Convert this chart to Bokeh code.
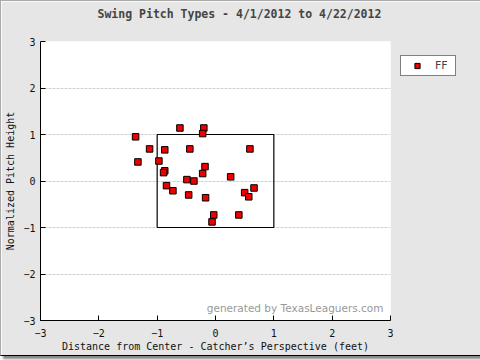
from bokeh.plotting import figure
from bokeh.models import Label, Legend, LegendItem, Range1d, FixedTicker
from bokeh.embed import file_html
from bokeh.resources import INLINE

pitch_x = [-0.61, -0.20, -0.22, -1.37, -1.13, -0.87, -0.44, 0.59, -1.33, -0.97,
           -0.18, -0.87, -0.89, -0.22, 0.26, -0.49, -0.37, 0.66, -0.84, -0.73,
           0.50, 0.57, -0.46, -0.17, -0.03, 0.40, -0.06]
pitch_y = [1.14, 1.14, 1.02, 0.95, 0.69, 0.67, 0.69, 0.69, 0.41, 0.43,
           0.31, 0.22, 0.18, 0.16, 0.09, 0.03, 0.00, -0.15, -0.10, -0.21,
           -0.25, -0.34, -0.30, -0.36, -0.73, -0.73, -0.88]
pitch_type = "FF"
sz_left, sz_right, sz_bottom, sz_top = [-1.0], [1.0], [-1.0], [1.0]
ticks = [-3, -2, -1, 0, 1, 2, 3]

MONO = "DejaVu Sans Mono"

p = figure(frame_width=350, frame_height=279, output_backend="svg", toolbar_location=None,
           x_range=Range1d(-3, 3), y_range=Range1d(-3, 3),
           min_border_left=39, min_border_right=84, min_border_top=40, min_border_bottom=35)
p.styles = {"border-left": "1px solid #aaa", "border-top": "1px solid #aaa",
            "border-right": "1px solid #000", "border-bottom": "1px solid #000",
            "box-shadow": "3px 3px 2px #888"}
p.background_fill_color = "white"
p.border_fill_color = "#e6e6e6"
p.outline_line_color = None

p.title.text = "Swing Pitch Types - 4/1/2012 to 4/22/2012\n "
p.title.text_font = MONO
p.title.text_font_size = "11.5px"
p.title.text_font_style = "bold"
p.title.align = "left"
p.title.vertical_align = "top"
p.title.offset = 57
p.title.standoff = 10

for ax in (p.xaxis[0], p.yaxis[0]):
    ax.ticker = FixedTicker(ticks=ticks)
    ax.minor_tick_line_color = None
    ax.major_tick_in = 5
    ax.major_tick_out = 0
    ax.major_label_text_font = MONO
    ax.major_label_text_font_size = "10px"
    ax.major_label_text_color = "#111"
    ax.axis_label_text_font = MONO
    ax.axis_label_text_font_size = "10px"
    ax.axis_label_text_font_style = "normal"
    ax.axis_label_text_color = "#111"
    ax.axis_line_color = "black"
    ax.major_tick_line_color = "black"

p.xaxis.axis_label = "Distance from Center - Catcher\u2019s Perspective (feet)"
p.yaxis.axis_label = "Normalized Pitch Height"
p.xaxis.major_label_standoff = 8
p.xaxis.axis_label_standoff = 1
p.yaxis.major_label_standoff = 5
p.yaxis.axis_label_standoff = 4

p.xgrid.grid_line_color = None
p.ygrid.ticker = FixedTicker(ticks=ticks)
p.ygrid.grid_line_color = "#d0d0d0"
p.ygrid.grid_line_dash = "3 1"

p.quad(left=sz_left, right=sz_right, bottom=sz_bottom, top=sz_top,
       fill_color=None, line_color="black", line_width=1.2)

r = p.scatter(pitch_x, pitch_y, marker="square", size=6.5,
              fill_color="#ee0000", line_color="black", line_width=1)

p.add_layout(Label(x=2.88, y=-2.87, text="generated by TexasLeaguers.com",
                   text_align="right", text_baseline="bottom",
                   text_font="DejaVu Sans", text_font_size="10.5px", text_color="#999999"))

legend = Legend(items=[LegendItem(label=pitch_type, renderers=[r])],
                location=(10, 244), margin=0, padding=3, label_standoff=5,
                glyph_width=26, glyph_height=13, label_height=13, label_width=17,
                label_text_font="DejaVu Sans", label_text_font_size="11px",
                border_line_color="black", border_line_width=1,
                background_fill_color="white", background_fill_alpha=1)
p.add_layout(legend, "right")

open("out.html", "w").write(file_html(p, INLINE))
